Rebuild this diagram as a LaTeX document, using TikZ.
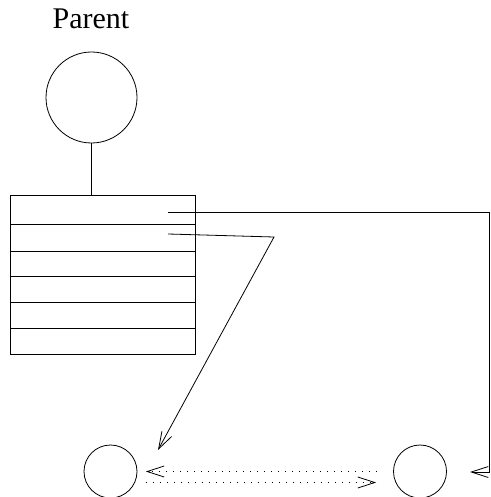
\documentclass[tikz,border=0pt]{standalone}
\usepackage{fontspec}
\setmainfont{Liberation Serif}
\usetikzlibrary{arrows.meta}
\begin{document}
\begin{tikzpicture}
[x=1pt,y=-1pt,line width=0.8pt,>={Straight Barb[length=17pt,width=11pt]},
ring/.style = {draw, circle, inner sep = 0pt},
dots/.style = {dash pattern=on 1pt off 6pt},]

\useasboundingbox (0,0) rectangle (490,497);
\def\boxl{10}
\def\boxr{195}
\node (T) at (91,29)[anchor=base,font=\fontsize{30}{36}\selectfont] {Parent};
\node (Par) at (91.5,97.5)[ring,minimum size=91pt] {};
\node (Tab) at (102.5,274.5)[draw,minimum width=185pt,minimum height=159pt,inner sep=0pt] {};
\foreach \y in {224,251,276,302,328}
  \draw (\boxl,\y)--(\boxr,\y);
\draw (Par.south)--(Par.south |- Tab.north);

\node (L) at (110.5,471.5)[ring,minimum size=53pt] {};
\node (R) at (420,471.5)[ring,minimum size=53pt] {};

\coordinate (A) at (168,212);
\coordinate (B) at (168,234);
\coordinate (Bk) at (274,237);
\coordinate (Rc) at (489,472);
\coordinate (Rtip) at (470,472);
\coordinate (Ltip) at (158,450);
\draw[->] (A) -| (Rc) -- (Rtip);
\draw[->] (B)--(Bk)--(Ltip);

\draw[->,dots] ([xshift=-16pt]R.west)--([xshift=8.5pt]L.east);
\draw[->,dots] ([xshift=8.5pt,yshift=-11pt]L.east)--([xshift=-17pt,yshift=-11pt]R.west);

\end{tikzpicture}
\end{document}
